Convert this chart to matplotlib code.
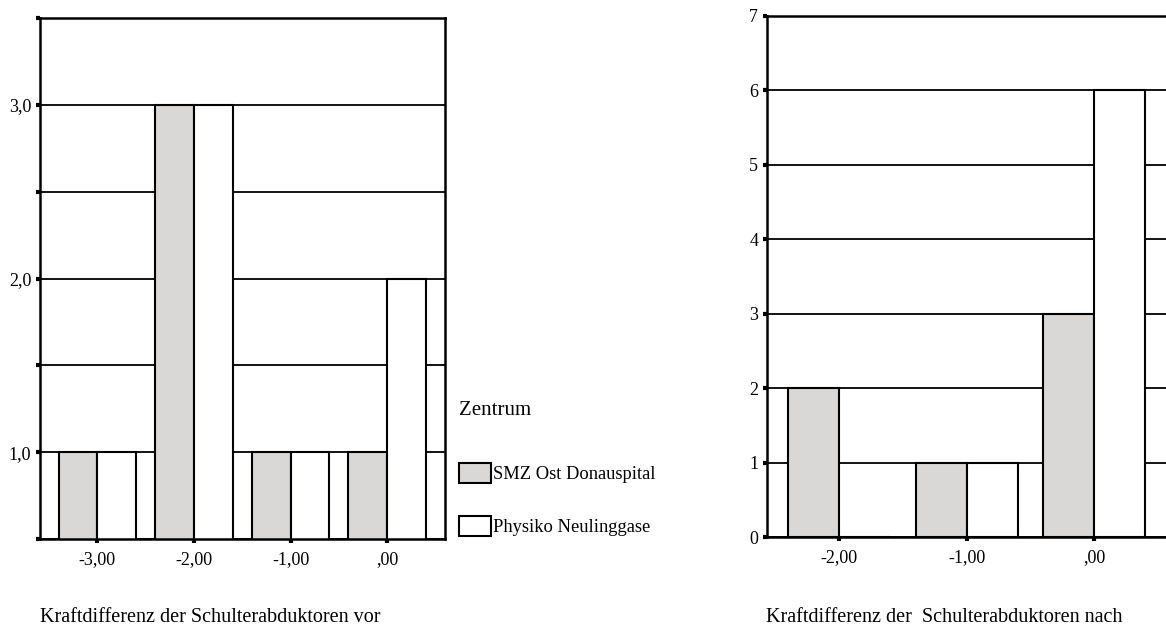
import matplotlib.pyplot as plt
from matplotlib.patches import Patch
from matplotlib.ticker import FuncFormatter, MultipleLocator

plt.rcParams['font.family'] = ['Liberation Serif', 'DejaVu Serif']

# data
left_x = [-3, -2, -1, 0]
left_smz = [1, 3, 1, 1]
left_phys = [1, 3, 1, 2]
right_x = [-2, -1, 0]
right_smz = [2, 1, 3]
right_phys = [0, 1, 6]
series_names = ['SMZ Ost Donauspital', 'Physiko Neulinggase']
label_vor = 'Kraftdifferenz der Schulterabduktoren vor'
label_nach = 'Kraftdifferenz der  Schulterabduktoren nach'

grau = '#d9d8d6'


def xfmt(v, pos):
    s = f'{v:.2f}'.replace('.', ',')
    if s in ('0,00', '-0,00'):
        s = ',00'
    return s


def draw(ax, xs, smz, phys, xlo, xhi, ylo, yhi, step):
    ax.set_xlim(xlo, xhi)
    ax.set_ylim(ylo, yhi)
    y = ylo
    while y <= yhi + 1e-9:
        ax.axhline(y, color='black', lw=1.3, zorder=1)
        y += step
    ax.bar(xs, smz, width=-0.4, align='edge', color=grau,
           edgecolor='black', lw=1.5, zorder=2)
    ax.bar(xs, phys, width=0.4, align='edge', color='white',
           edgecolor='black', lw=1.5, zorder=2)
    ax.set_xticks(xs)
    ax.xaxis.set_major_formatter(FuncFormatter(xfmt))
    for s in ax.spines.values():
        s.set_linewidth(1.8)
        s.set_zorder(3)
    ax.tick_params(which='both', direction='out', length=3, width=3,
                   labelsize=13, pad=3)
    ax.tick_params(axis='x', pad=6)


fig = plt.figure(figsize=(11.66, 6.28), dpi=100)

ax1 = fig.add_axes([39.5 / 1166, 89 / 628, 405.5 / 1166, 521 / 628])
draw(ax1, left_x, left_smz, left_phys, -3.6, 0.6, 0.5, 3.5, 0.5)
ax1.yaxis.set_major_locator(MultipleLocator(1.0))
ax1.yaxis.set_minor_locator(MultipleLocator(0.5))
ax1.yaxis.set_major_formatter(FuncFormatter(lambda v, p: f'{v:.1f}'.replace('.', ',')))

ax2 = fig.add_axes([766.5 / 1166, 91 / 628, 404 / 1166, 521 / 628])
draw(ax2, right_x, right_smz, right_phys, -2.57, 0.6, 0, 7, 1)
ax2.yaxis.set_major_locator(MultipleLocator(1))

fig.text(40 / 1166, 1 - 618 / 628, label_vor, fontsize=14.5, va='center', ha='left')
fig.text(766 / 1166, 1 - 618 / 628, label_nach, fontsize=14.5, va='center', ha='left')

handles = [Patch(facecolor=grau, edgecolor='black', lw=1.5),
           Patch(facecolor='white', edgecolor='black', lw=1.5)]
leg = fig.legend(handles, series_names, title='Zentrum', loc='upper left',
                 bbox_to_anchor=(446 / 1166, 1 - 388 / 628), frameon=False,
                 fontsize=13.3, title_fontsize=15, handlelength=1.75,
                 handleheight=1.3, labelspacing=1.75, handletextpad=0.1,
                 borderpad=0.2)
leg._legend_box.align = 'left'
leg._legend_box.sep = 31

fig.savefig('out.png', dpi=100)
